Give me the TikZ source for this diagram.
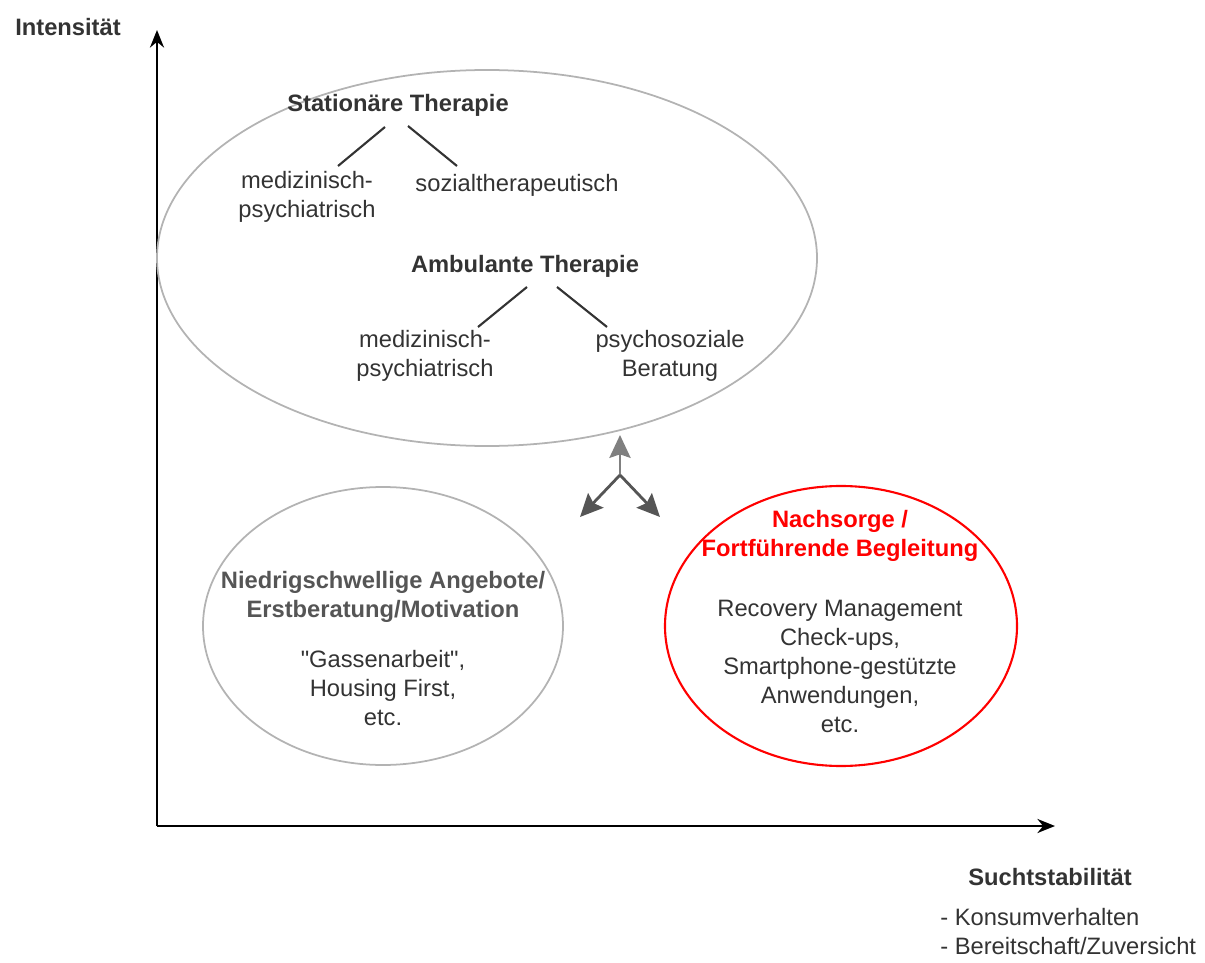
\documentclass[tikz,border=0pt]{standalone}
\usepackage{fontspec}
\setmainfont{Liberation Sans}[Ligatures=TeXOff]
\usetikzlibrary{arrows.meta}
\definecolor{txtgray}{HTML}{333333}
\definecolor{ringgray}{HTML}{B3B3B3}
\definecolor{hubgray}{HTML}{555555}
\tikzset{
  lbl/.style={text=txtgray, align=center, font=\fontsize{13.5}{16.5}\selectfont, inner sep=0pt},
  head/.style={lbl, font=\bfseries\fontsize{13.5}{16.5}\selectfont},
  ring/.style={draw=ringgray, line width=1pt},
  branch/.style={draw=txtgray, line width=1.2pt},
  hubarrow/.style={draw=hubgray, line width=1.6pt, -{Stealth[length=13pt,width=12pt,inset=2pt]}},
}
\begin{document}
\begin{tikzpicture}[x=0.02cm, y=-0.02cm]
        \useasboundingbox (0,0) rectangle (1205,963);
        % axes
        \coordinate (origin) at (157,826);
        \coordinate (ytop) at (157,30);
        \coordinate (xend) at (1055,826);
        \draw[line width=1.3pt, -{Stealth[length=10pt,width=8pt]}] (origin) -- (ytop);
        \draw[line width=1.3pt, -{Stealth[length=10pt,width=8pt]}] (origin) -- (xend);
        \node[head, anchor=center] (intens) at (68,27) {Intensität};
        \node[head] (sucht) at (1050,877) {Suchtstabilität};
        \node[lbl, align=left, anchor=north west] (suchtlist) at (940,908) {- Konsumverhalten\\- Bereitschaft/Zuversicht};

        % therapy ellipse
        \draw[ring] (487,258) ellipse [x radius=330, y radius=188];
        \node[head] (stat) at (398,105) {Stationäre Therapie};
        \node[lbl] (statmed) at (307,197) {medizinisch-\\psychiatrisch};
        \node[lbl] (statsoz) at (517,185) {sozialtherapeutisch};
        \coordinate (s1a) at (385,127); \coordinate (s1b) at (338,166);
        \coordinate (s2a) at (408,126); \coordinate (s2b) at (457,166);
        \draw[branch] (s1a) -- (s1b);
        \draw[branch] (s2a) -- (s2b);
        \node[head] (amb) at (525,266) {Ambulante Therapie};
        \node[lbl] (ambmed) at (425,356) {medizinisch-\\psychiatrisch};
        \node[lbl] (ambpsy) at (670,356) {psychosoziale\\Beratung};
        \coordinate (a1a) at (527,287); \coordinate (a1b) at (478,327);
        \coordinate (a2a) at (557,287); \coordinate (a2b) at (607,327);
        \draw[branch] (a1a) -- (a1b);
        \draw[branch] (a2a) -- (a2b);

        % hub arrows
        \coordinate (hub) at (620,475);
        \coordinate (hubup) at (620,435);
        \coordinate (hubleft) at (580,517);
        \coordinate (hubright) at (660,517);
        \draw[hubarrow, draw=gray] (hub) -- (hubup);
        \draw[hubarrow] (hub) -- (hubleft);
        \draw[hubarrow] (hub) -- (hubright);

        % low threshold
        \draw[ring] (383,626) ellipse [x radius=180, y radius=139];
        \node[head, text=hubgray] (niedrig) at (383,597) {Niedrigschwellige Angebote/\\Erstberatung/Motivation};
        \node[lbl] (gasse) at (383,688) {"Gassenarbeit",\\Housing First,\\etc.};

        % aftercare
        \draw[red, line width=1.2pt] (841,626) ellipse [x radius=176, y radius=140];
        \node[head, text=red] (nach) at (840,536) {Nachsorge /\\Fortführende Begleitung};
        \node[lbl] (recov) at (840,666) {Recovery Management\\Check-ups,\\Smartphone-gestützte\\Anwendungen,\\etc.};
      \end{tikzpicture}
\end{document}
